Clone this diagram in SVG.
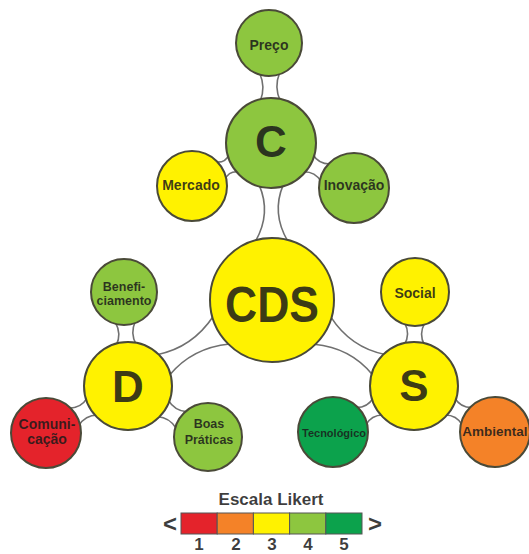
<svg xmlns="http://www.w3.org/2000/svg" width="529" height="554" viewBox="0 0 529 554">
<style>
.conn{fill:#fff;stroke:#707070;stroke-width:1.6}
.nd{stroke:#4a4a38;stroke-width:2}
.y{fill:#fff200}.g{fill:#8dc63f}.dg{fill:#0ca24c}.r{fill:#e4232b}.o{fill:#f48228}
text{font-family:"Liberation Sans",Arial,sans-serif;font-weight:bold;text-anchor:middle;fill:#1a1a1a;fill-opacity:0.85}
.s{font-size:14px}.m{font-size:12.5px}.big{font-size:44px}
</style>
<rect width="529" height="554" fill="#fff"/>
<g id="connectors">
<path class="conn" transform="translate(272,300) rotate(-90.4)" d="M59,-16 Q87,0 115,-12 L115,12 Q87,0 59,16 Z"/>
<path class="conn" transform="translate(272,300) rotate(149.15)" d="M59,-16 Q92.9,0 126.7,-12 L126.7,12 Q92.9,0 59,16 Z"/>
<path class="conn" transform="translate(272,300) rotate(31.2)" d="M59,-16 Q92,0 125,-12 L125,12 Q92,0 59,16 Z"/>
<path class="conn" transform="translate(271,143) rotate(-91.1)" d="M42,-10 Q56,-4 70,-10 L70,10 Q56,4 42,10 Z"/>
<path class="conn" transform="translate(271,143) rotate(151.4)" d="M42,-10 Q50,-4 57.9,-10 L57.9,10 Q50,4 42,10 Z"/>
<path class="conn" transform="translate(271,143) rotate(28.5)" d="M42,-10 Q52.2,-4 62.4,-10 L62.4,10 Q52.2,4 42,10 Z"/>
<path class="conn" transform="translate(128,386) rotate(-92.4)" d="M41,-10 Q52.5,-4 64.1,-10 L64.1,10 Q52.5,4 41,10 Z"/>
<path class="conn" transform="translate(128,386) rotate(150.2)" d="M41,-10 Q51.7,-4 62.5,-10 L62.5,10 Q51.7,4 41,10 Z"/>
<path class="conn" transform="translate(128,386) rotate(32.5)" d="M41,-10 Q52.4,-4 63.9,-10 L63.9,10 Q52.4,4 41,10 Z"/>
<path class="conn" transform="translate(414,386) rotate(-89.4)" d="M41,-10 Q52,-4 63,-10 L63,10 Q52,4 41,10 Z"/>
<path class="conn" transform="translate(414,386) rotate(150.4)" d="M41,-10 Q51.1,-4 61.2,-10 L61.2,10 Q51.1,4 41,10 Z"/>
<path class="conn" transform="translate(414,386) rotate(29.6)" d="M41,-10 Q51.1,-4 61.2,-10 L61.2,10 Q51.1,4 41,10 Z"/>
</g>
<g id="CDS"><circle class="nd y" cx="272" cy="300" r="62"/><text x="272" y="322" font-size="50" textLength="94" lengthAdjust="spacingAndGlyphs">CDS</text></g>
<g id="C"><circle class="nd g" cx="271" cy="143" r="45"/><text class="big" x="271" y="157">C</text></g>
<g id="D"><circle class="nd y" cx="128" cy="386" r="44"/><text class="big" x="128" y="402">D</text></g>
<g id="S"><circle class="nd y" cx="414" cy="386" r="44"/><text class="big" x="414" y="401">S</text></g>
<g id="Preco"><circle class="nd g" cx="269" cy="43" r="33"/><text class="s" x="269" y="50">Preço</text></g>
<g id="Mercado"><circle class="nd y" cx="192" cy="186" r="35"/><text class="s" x="191" y="190">Mercado</text></g>
<g id="Inovacao"><circle class="nd g" cx="354" cy="188" r="35"/><text class="s" x="354" y="190">Inovação</text></g>
<g id="Beneficiamento"><circle class="nd g" cx="124" cy="292" r="33"/><text class="m" x="124" y="291">Benefi-</text><text class="m" x="124" y="305">ciamento</text></g>
<g id="Comunicacao"><circle class="nd r" cx="46" cy="433" r="35"/><text class="s" x="47" y="429">Comuni-</text><text class="s" x="47" y="444">cação</text></g>
<g id="BoasPraticas"><circle class="nd g" cx="208" cy="437" r="34"/><text class="m" x="209" y="428">Boas</text><text class="m" x="209" y="444">Práticas</text></g>
<g id="Social"><circle class="nd y" cx="415" cy="292" r="34"/><text class="s" x="415" y="298">Social</text></g>
<g id="Tecnologico"><circle class="nd dg" cx="333" cy="432" r="35"/><text x="334" y="437" font-size="11">Tecnológico</text></g>
<g id="Ambiental"><circle class="nd o" cx="495" cy="432" r="35"/><text x="495" y="436" font-size="13.5">Ambiental</text></g>
<g id="legend">
<text x="271" y="505" font-size="17">Escala Likert</text>
<rect x="181" y="513" width="36.2" height="21" fill="#e4232b" stroke="#555" stroke-width="1"/>
<rect x="217.2" y="513" width="36.2" height="21" fill="#f48228" stroke="#555" stroke-width="1"/>
<rect x="253.4" y="513" width="36.2" height="21" fill="#fff200" stroke="#555" stroke-width="1"/>
<rect x="289.6" y="513" width="36.2" height="21" fill="#8dc63f" stroke="#555" stroke-width="1"/>
<rect x="325.8" y="513" width="36.2" height="21" fill="#0ca24c" stroke="#555" stroke-width="1"/>
<text x="170" y="532" font-size="24">&lt;</text>
<text x="375" y="532" font-size="24">&gt;</text>
<text x="199" y="550" font-size="17">1</text>
<text x="236" y="550" font-size="17">2</text>
<text x="272" y="550" font-size="17">3</text>
<text x="308" y="550" font-size="17">4</text>
<text x="344" y="550" font-size="17">5</text>
</g>
</svg>
